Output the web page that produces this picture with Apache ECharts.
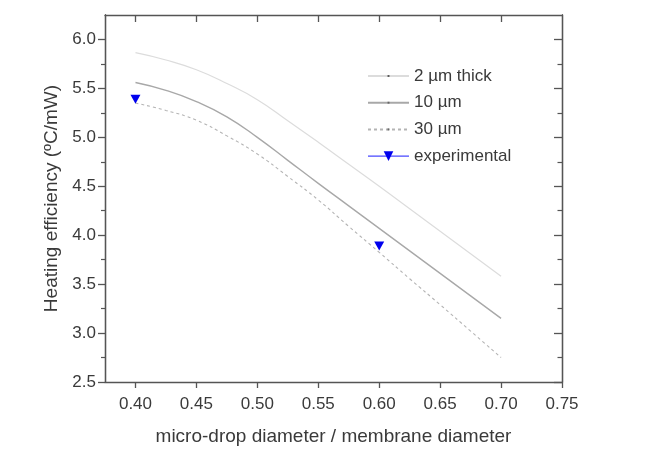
<!DOCTYPE html>
<html><head><meta charset="utf-8">
<script src="https://cdn.jsdelivr.net/npm/echarts@6/dist/echarts.min.js"></script>
<style>html,body{margin:0;padding:0;background:#fff}#c{width:646px;height:455px}</style>
</head><body><div id="c"></div>
<script>
// ---- data ----
const xValues = [0.400, 0.425, 0.450, 0.475, 0.500, 0.525, 0.550, 0.575, 0.600, 0.625, 0.650, 0.675, 0.700];
const thick2  = [5.865, 5.79, 5.69, 5.55, 5.385, 5.17, 4.95, 4.725, 4.50, 4.27, 4.04, 3.81, 3.58];
const thick10 = [5.56, 5.48, 5.365, 5.21, 5.00, 4.765, 4.53, 4.30, 4.07, 3.84, 3.61, 3.38, 3.15];
const thick30 = [5.35, 5.275, 5.175, 5.015, 4.83, 4.60, 4.36, 4.09, 3.825, 3.555, 3.29, 3.02, 2.75];
const expX = [0.40, 0.60];
const expY = [5.39, 3.89];
const seriesNames = ['2 \u00b5m thick', '10 \u00b5m', '30 \u00b5m', 'experimental'];
const xTickValues = [0.40, 0.45, 0.50, 0.55, 0.60, 0.65, 0.70, 0.75];
const xTopTickValues = [0.40, 0.45, 0.50, 0.55, 0.60, 0.65, 0.70];
const yTickValues = [2.5, 3.0, 3.5, 4.0, 4.5, 5.0, 5.5, 6.0];
const yMinorTickValues = [2.75, 3.25, 3.75, 4.25, 4.75, 5.25, 5.75];
const xTitle = 'micro-drop diameter / membrane diameter';
const yTitle = 'Heating efficiency (\u00baC/mW)';

const X_MIN = 0.375, X_MAX = 0.75, Y_MIN = 2.5, Y_MAX = 6.25;
const FONT = 'Liberation Sans, Arial, sans-serif';
const TXT = '#3a3a3a';
const AX = '#555';
const dotSymbol = 'path://M0,0 M4,4 L6,4 L6,6 L4,6 Z M10,10';

function pairs(xs, ys) { return xs.map((x, i) => [x, ys[i]]); }

function yAx(opts) {
  return Object.assign({
    type: 'value', min: Y_MIN, max: Y_MAX, splitLine: { show: false },
    axisLine: { show: true, onZero: false, lineStyle: { color: AX, width: 1.3 } },
    axisLabel: { show: false }, axisTick: { show: false }
  }, opts);
}
function xAx(opts) {
  return Object.assign({
    type: 'value', min: X_MIN, max: X_MAX, splitLine: { show: false },
    axisLine: { show: true, onZero: false, lineStyle: { color: AX, width: 1.3 } },
    axisLabel: { show: false }, axisTick: { show: false }
  }, opts);
}

const chart = echarts.init(document.getElementById('c'), null, { renderer: 'canvas' });
chart.setOption({
  backgroundColor: '#fff',
  animation: false,
  grid: { left: 105, right: 84, top: 15, bottom: 73 },
  legend: {
    orient: 'vertical', left: 362, top: 61,
    itemWidth: 41, itemHeight: 12, itemGap: 6.7,
    textStyle: { fontFamily: FONT, fontSize: 17, color: TXT, lineHeight: 20 },
    data: [
      { name: seriesNames[0], itemStyle: { color: '#555', borderWidth: 0 } },
      { name: seriesNames[1], itemStyle: { color: '#666', borderWidth: 0 } },
      { name: seriesNames[2], itemStyle: { color: '#666', borderWidth: 0 } },
      { name: seriesNames[3], lineStyle: { opacity: 1, width: 1, color: '#1a1aff', type: 'solid' }, itemStyle: { color: '#0000ee' } }
    ]
  },
  xAxis: [
    xAx({
      position: 'bottom',
      name: xTitle, nameLocation: 'middle', nameGap: 45,
      nameTextStyle: { fontFamily: FONT, fontSize: 19, color: TXT },
      axisTick: { show: true, inside: false, length: 6, customValues: xTickValues, lineStyle: { color: AX, width: 1.3 } },
      axisLabel: { show: true, margin: 14, customValues: xTickValues, fontFamily: FONT, fontSize: 17, color: TXT,
        formatter: v => v.toFixed(2) }
    }),
    xAx({
      position: 'top',
      axisTick: { show: true, inside: true, length: 7, customValues: xTopTickValues, lineStyle: { color: AX, width: 1.3 } }
    })
  ],
  yAxis: [
    yAx({
      position: 'left',
      name: yTitle, nameLocation: 'middle', nameGap: 44,
      nameTextStyle: { fontFamily: FONT, fontSize: 19, color: TXT },
      axisTick: { show: true, inside: false, length: 7, customValues: yTickValues, lineStyle: { color: AX, width: 1.3 } },
      axisLabel: { show: true, margin: 9, customValues: yTickValues, fontFamily: FONT, fontSize: 17, color: TXT,
        formatter: v => v.toFixed(1) }
    }),
    yAx({
      position: 'left',
      axisTick: { show: true, inside: false, length: 4, customValues: yMinorTickValues, lineStyle: { color: AX, width: 1.2 } }
    }),
    yAx({
      position: 'right',
      axisTick: { show: true, inside: true, length: 8, customValues: yTickValues, lineStyle: { color: AX, width: 1.3 } }
    }),
    yAx({
      position: 'right',
      axisTick: { show: true, inside: true, length: 4.5, customValues: yMinorTickValues, lineStyle: { color: AX, width: 1.2 } }
    })
  ],
  series: [
    { name: seriesNames[0], type: 'line', smooth: true, showSymbol: false, symbol: dotSymbol, symbolSize: 3,
      data: pairs(xValues, thick2), itemStyle: { color: '#555' },
      lineStyle: { color: '#dcdcdc', width: 1.2 }, z: 2 },
    { name: seriesNames[1], type: 'line', smooth: true, showSymbol: false, symbol: dotSymbol, symbolSize: 3,
      data: pairs(xValues, thick10), itemStyle: { color: '#666' },
      lineStyle: { color: '#a8a8a8', width: 1.4 }, z: 2 },
    { name: seriesNames[2], type: 'line', smooth: true, showSymbol: false, symbol: dotSymbol, symbolSize: 3,
      data: pairs(xValues, thick30), itemStyle: { color: '#666' },
      lineStyle: { color: '#b4b4b4', width: 1.1, type: [3, 3] }, z: 2 },
    { name: seriesNames[3], type: 'line', showSymbol: true, symbol: 'triangle', symbolRotate: 180, symbolSize: [10, 9],
      data: pairs(expX, expY), itemStyle: { color: '#0000ee' },
      lineStyle: { opacity: 0, width: 0 }, z: 3 }
  ]
});
</script>
</body></html>
